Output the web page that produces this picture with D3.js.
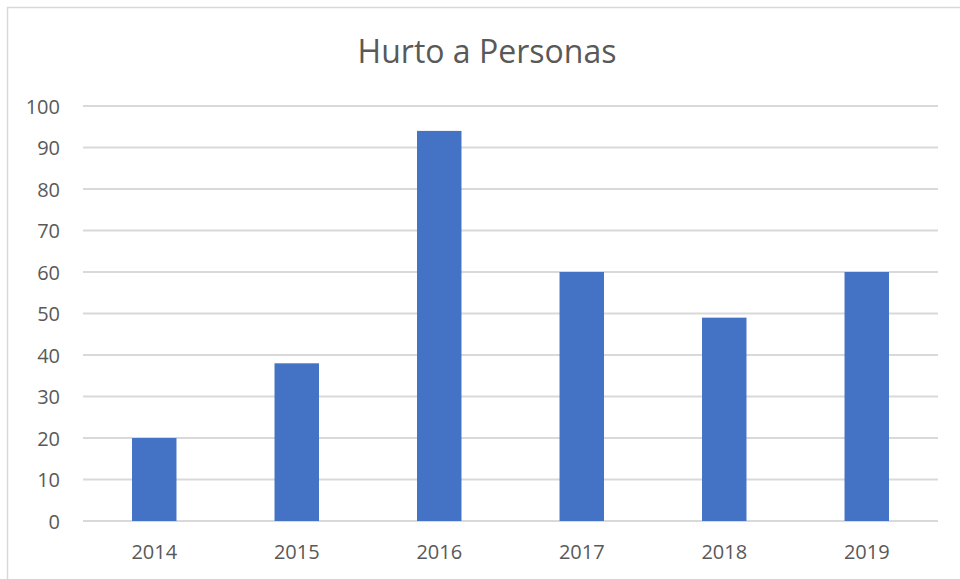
<!DOCTYPE html>
<head>
    <meta charset="utf-8">
    <style>
        body { margin: 0; background: #fff; font-family: 'Open Sans', sans-serif; }
        svg { position: absolute; top: 0; left: 0; }
        .title { font-size: 32px; fill: #595959; text-anchor: middle; }
        .axis text { font-family: 'Open Sans', sans-serif; font-size: 20px; fill: #595959; }
        .axis path, .axis line { display: none; }
        .grid line { stroke: #d9d9d9; stroke-width: 1.8; }
    </style>
    <script src="https://d3js.org/d3.v7.min.js"></script>
</head>
<body>
<script>
    ////////////// Data //////////////
    const years = ["2014", "2015", "2016", "2017", "2018", "2019"]
    const values = [20, 38, 94, 60, 49, 60]
    const y_ticks = [0, 10, 20, 30, 40, 50, 60, 70, 80, 90, 100]
    const chart_title = "Hurto a Personas"

    ////////////// SVG //////////////
    const W = 960, H = 579
    const margin = { top: 106, right: 22, bottom: 58, left: 83 }
    const width = W - margin.left - margin.right,
        height = H - margin.top - margin.bottom

    const root = d3.select("body").append("svg")
        .attr("width", W)
        .attr("height", H)

    //Chart frame (runs off the right/bottom edge like the original)
    root.append("rect")
        .attr("x", 7.5).attr("y", 7.5)
        .attr("width", 980).attr("height", 600)
        .attr("fill", "#fff")
        .attr("stroke", "#d9d9d9")
        .attr("stroke-width", 1.5)

    const svg = root.append("g")
        .attr("transform", "translate(" + margin.left + "," + margin.top + ")")

    ////////////// Scales //////////////
    const x_scale = d3.scaleBand()
        .domain(years)
        .range([0, width])
        .paddingInner(0.688)
        .paddingOuter(0.344)

    const y_scale = d3.scaleLinear()
        .domain([0, 100])
        .range([height, 0])

    ////////////// Gridlines //////////////
    svg.append("g")
        .attr("class", "grid")
        .selectAll("line")
        .data(y_ticks)
        .join("line")
        .attr("x1", 0)
        .attr("x2", width)
        .attr("y1", d => y_scale(d))
        .attr("y2", d => y_scale(d))

    ////////////// Bars //////////////
    svg.selectAll(".bar")
        .data(years)
        .join("rect")
        .attr("class", "bar")
        .attr("x", d => x_scale(d))
        .attr("width", x_scale.bandwidth())
        .attr("y", (d, i) => y_scale(values[i]))
        .attr("height", (d, i) => height - y_scale(values[i]))
        .attr("fill", "#4472c4")

    ////////////// Axes //////////////
    svg.append("g")
        .attr("class", "axis y")
        .call(d3.axisLeft(y_scale).tickValues(y_ticks).tickSize(0).tickPadding(23))
        .selectAll("text")
        .attr("dy", "0.36em")

    svg.append("g")
        .attr("class", "axis x")
        .attr("transform", "translate(0," + height + ")")
        .call(d3.axisBottom(x_scale).tickSize(0).tickPadding(24))

    ////////////// Title //////////////
    root.append("text")
        .attr("class", "title")
        .attr("x", 487)
        .attr("y", 63)
        .text(chart_title)
</script>
</body>
